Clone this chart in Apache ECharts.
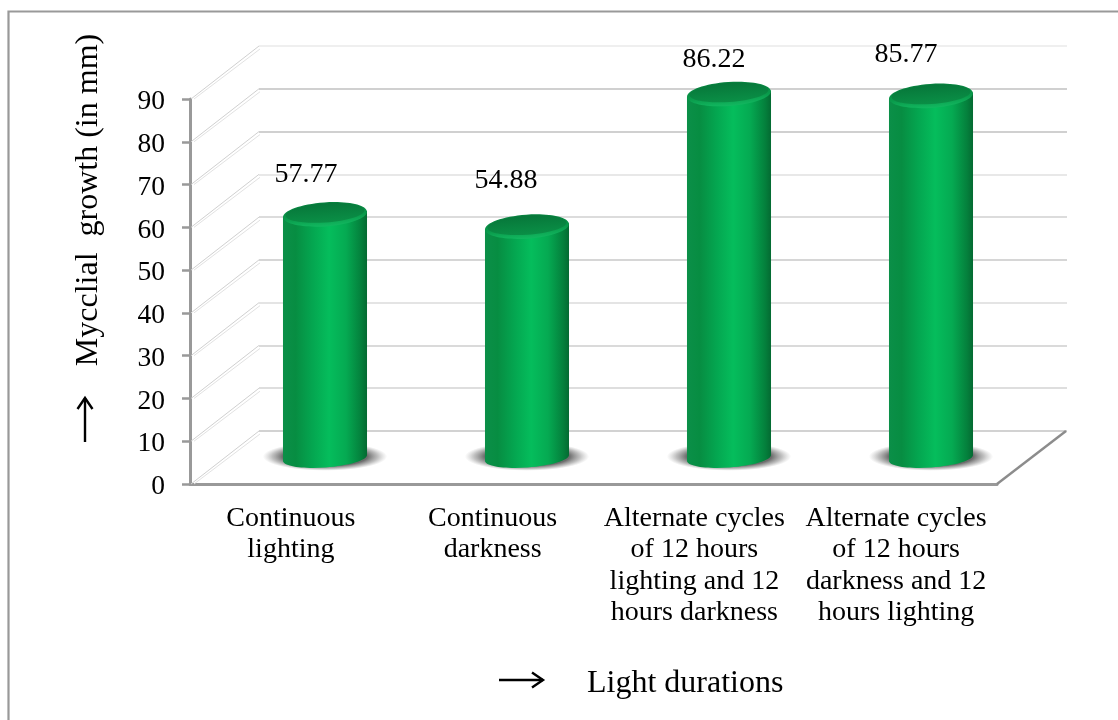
<!DOCTYPE html>
<html>
<head>
<meta charset="utf-8">
<style>html,body{margin:0;padding:0;background:#fff}#c{width:1118px;height:720px}</style>
<script src="https://cdn.jsdelivr.net/npm/echarts@6/dist/echarts.min.js"></script>
</head>
<body>
<div id="c"></div>
<script>
const categories = [
  "Continuous\nlighting",
  "Continuous\ndarkness",
  "Alternate cycles\nof 12 hours\nlighting and 12\nhours darkness",
  "Alternate cycles\nof 12 hours\ndarkness and 12\nhours lighting"
];
const growth = [57.77, 54.88, 86.22, 85.77];
const yTicks = [0, 10, 20, 30, 40, 50, 60, 70, 80, 90];
const yTitle = "Mycclial  growth (in mm)";
const xTitle = "Light durations";

const FONT = '"Liberation Serif", serif';
const labelShift = [[-19, -39], [-21, -46], [-15, -34], [-25, -41]];
const depth = [69, -53];
const wallColors = ['#d2d2d2','#dedede','#dadada','#e4e4e4','#d6d6d6','#dcdcdc','#e8e8e8','#d0d0d0','#d0d0d0','#efefef'];
const tilt = 4 * Math.PI / 180;

const chart = echarts.init(document.getElementById('c'), null, {renderer: 'canvas'});

function hg(stops) {
  return new echarts.graphic.LinearGradient(0, 0, 1, 0, stops.map(s => ({offset: s[0], color: s[1]})));
}
const bodyFill = () => hg([[0, '#0b8f48'], [0.15, '#078d42'], [0.35, '#04a650'], [0.55, '#05bd5c'], [0.75, '#05aa52'], [0.93, '#04803c'], [1, '#046a32']]);

function renderBar(params, api) {
  const i = params.dataIndex;
  const v = api.value(1);
  const top = api.coord([api.value(0), v]);
  const base = api.coord([api.value(0), 0]);
  const bw = api.size([1, 0])[0] * 0.416;
  const rx = bw / 2, cx = top[0];
  const dy = Math.sin(tilt) * rx;
  const el = (y, a, b, style, z) => ({
    type: 'ellipse',
    shape: {cx: cx, cy: y, rx: a, ry: b},
    originX: cx, originY: y, rotation: tilt,
    style: style, z2: z
  });
  const rimFill = new echarts.graphic.LinearGradient(0, 0, 0, 1, [
    {offset: 0, color: '#07803e'}, {offset: 0.6, color: '#0a9a4b'}, {offset: 1, color: '#12b860'}
  ]);
  const capFill = new echarts.graphic.LinearGradient(0, 0, 0, 1, [
    {offset: 0, color: '#07773a'}, {offset: 1, color: '#0a8f46'}
  ]);
  const shadowFill = new echarts.graphic.RadialGradient(0.5, 0.5, 0.5, [
    {offset: 0, color: 'rgba(95,95,95,1)'}, {offset: 0.68, color: 'rgba(100,100,100,0.95)'},
    {offset: 0.85, color: 'rgba(130,130,130,0.5)'}, {offset: 1, color: 'rgba(160,160,160,0)'}
  ]);
  const shadowY = base[1] - 2;
  return {
    type: 'group',
    children: [
      {type: 'circle', shape: {cx: cx, cy: shadowY, r: rx * 1.48},
        originX: cx, originY: shadowY, scaleY: 0.23,
        style: {fill: shadowFill}, z2: 1},
      el(base[1] - 0.5, rx, 9.5, {fill: bodyFill()}, 2),
      {
        type: 'polygon',
        shape: {points: [[cx - rx, top[1] + dy], [cx + rx, top[1] - dy], [cx + rx, base[1] - dy], [cx - rx, base[1] + dy]]},
        style: {fill: bodyFill()}, z2: 3
      },
      el(top[1] + 0.5, rx, 12, {fill: rimFill}, 4),
      el(top[1] - 1, rx - 2.5, 9.5, {fill: capFill}, 5),
      {
        type: 'text', z2: 6,
        style: {
          text: api.value(1).toFixed(2),
          x: cx + labelShift[i][0], y: top[1] + labelShift[i][1],
          align: 'center', verticalAlign: 'middle',
          font: '28px ' + FONT, fill: '#000'
        }
      }
    ]
  };
}

function renderWall(params, api) {
  const v = api.value(0);
  const cs = params.coordSys;
  const p = api.coord([0, v]);
  const x0 = cs.x, y0 = p[1];
  const kids = [
    {type: 'line', shape: {x1: x0 + 1, y1: y0, x2: x0 + depth[0], y2: y0 + depth[1]}, style: {stroke: '#d0d0d0', lineWidth: 1}},
    {type: 'line', shape: {x1: x0 + 4, y1: y0 , x2: x0 + depth[0] + 1, y2: y0 + depth[1] + 3}, style: {stroke: '#e2e2e2', lineWidth: 1}}
  ];
  if (v === 0) {
    kids.push({type: 'line', shape: {x1: x0 + cs.width, y1: y0, x2: x0 + cs.width + depth[0], y2: y0 + depth[1]}, style: {stroke: '#8c8c8c', lineWidth: 2.4}});
  }
  return {type: 'group', children: kids};
}

function arrow(x1, y1, x2, y2, ux, uy) {
  const len = 11, half = 7.5;
  return [
    {type: 'line', shape: {x1, y1, x2, y2}, style: {stroke: '#000', lineWidth: 2.4}},
    {type: 'polyline', shape: {points: [[x2 - ux * len - uy * half, y2 - uy * len - ux * half], [x2, y2], [x2 - ux * len + uy * half, y2 - uy * len + ux * half]]}, style: {stroke: '#000', lineWidth: 2.4, fill: 'none'}}
  ];
}

chart.setOption({
  animation: false,
  backgroundColor: '#fff',
  textStyle: {fontFamily: FONT},
  grid: [
    {left: 190, right: 121, top: 99, bottom: 236},
    {left: 259, right: 51, top: 46, bottom: 289},
    {left: 224, right: 86, top: 77.5, bottom: 261.5}
  ],
  xAxis: [
    {gridIndex: 0, type: 'category', data: categories,
      axisLine: {lineStyle: {color: '#999', width: 3}}, axisTick: {show: false},
      axisLabel: {interval: 0, fontSize: 28, lineHeight: 31.3, color: '#000', margin: 19, fontFamily: FONT}},
    {gridIndex: 1, type: 'category', data: categories, show: false},
    {gridIndex: 2, type: 'category', data: categories, show: false}
  ],
  yAxis: [
    {gridIndex: 0, type: 'value', min: 0, max: 90, interval: 10,
      axisLine: {show: true, lineStyle: {color: '#999', width: 3}},
      axisTick: {show: true, length: 8, lineStyle: {color: '#999', width: 2.5}},
      splitLine: {show: false},
      axisLabel: {fontSize: 27.5, color: '#000', margin: 25, verticalAlign: 'top', lineHeight: 6, fontFamily: FONT}},
    {gridIndex: 1, type: 'value', min: 0, max: 90, interval: 10,
      axisLine: {show: false}, axisTick: {show: false}, axisLabel: {show: false},
      splitLine: {show: true, lineStyle: {color: wallColors, width: 2}}},
    {gridIndex: 2, type: 'value', min: 0, max: 90, interval: 10, show: false, splitLine: {show: false}}
  ],
  series: [
    {type: 'custom', name: 'wall', xAxisIndex: 0, yAxisIndex: 0, z: 1, silent: true,
      encode: {y: 0}, data: yTicks.map(t => [t]), renderItem: renderWall, clip: false},
    {type: 'custom', name: 'Mycelial growth', xAxisIndex: 2, yAxisIndex: 2, z: 5,
      encode: {x: 0, y: 1}, data: categories.map((c, i) => [i, growth[i]]), renderItem: renderBar, clip: false}
  ],
  graphic: [
    {type: 'polyline', silent: true, shape: {points: [[8.5, 720], [8.5, 11.5], [1118, 11.5]]}, style: {stroke: '#999', lineWidth: 2.2, fill: 'none'}},
    {type: 'text', x: 89, y: 200, rotation: Math.PI / 2, style: {text: yTitle, x: 0, y: 0, align: 'center', verticalAlign: 'middle', font: '32px ' + FONT, fill: '#000'}},
    {type: 'text', x: 587, y: 684, style: {text: xTitle, x: 0, y: 0, align: 'left', verticalAlign: 'middle', font: '32px ' + FONT, fill: '#000'}},
    {type: 'group', silent: true, children: arrow(85, 442, 85, 398, 0, -1).concat(arrow(499, 680, 543, 680, 1, 0))}
  ]
});
</script>
</body>
</html>
